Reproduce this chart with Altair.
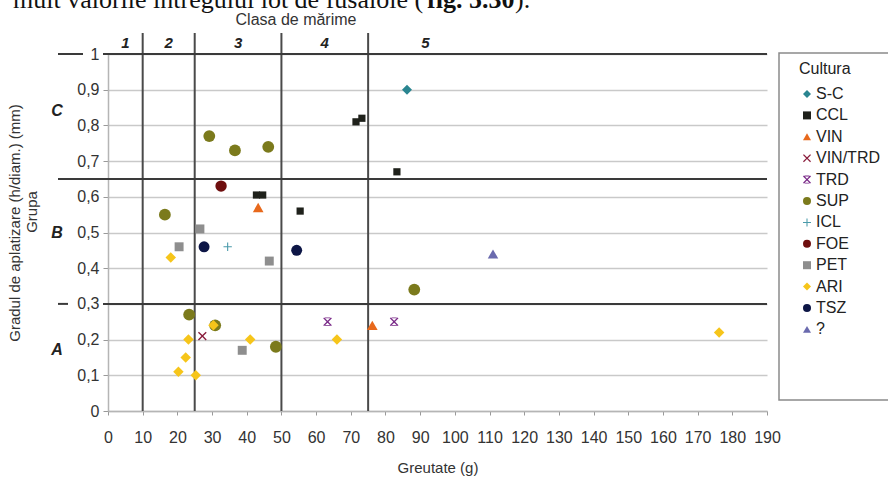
import altair as alt
import pandas as pd

# ---------------- data ----------------
series = ["S-C", "CCL", "VIN", "VIN/TRD", "TRD", "SUP", "ICL", "FOE", "PET", "ARI", "TSZ", "?"]
series_colors = ["#2a8590", "#1f211b", "#e8691c", "#8a1c3c", "#7a2a88", "#7b7a1c",
                 "#4a9aaa", "#6e0e0e", "#8e8e8e", "#f6c51a", "#0d1646", "#6a6aae"]

X_PATH = "M-1,-0.78L-0.78,-1L0,-0.22L0.78,-1L1,-0.78L0.22,0L1,0.78L0.78,1L0,0.22L-0.78,1L-1,0.78L-0.22,0Z"
STAR_PATH = X_PATH + " M-0.6,-1H0.6V-0.8H-0.6Z M-0.6,0.8H0.6V1H-0.6Z"
PLUS_PATH = "M-0.13,-1H0.13V-0.13H1V0.13H0.13V1H-0.13V0.13H-1V-0.13H-0.13Z"
series_shapes = ["diamond", "square", "triangle-up", X_PATH, STAR_PATH, "circle",
                 PLUS_PATH, "circle", "square", "diamond", "circle", "triangle-up"]
series_sizes = [100, 52, 115, 76, 76, 140, 70, 130, 80, 110, 120, 110]

cultura = (["S-C"]
           + ["CCL"] * 6
           + ["VIN"] * 2
           + ["VIN/TRD"]
           + ["TRD"] * 2
           + ["SUP"] * 8
           + ["ICL"]
           + ["FOE"]
           + ["PET"] * 4
           + ["ARI"] * 9
           + ["TSZ"] * 2
           + ["?"])
greutate = ([86.2]
            + [71.5, 73.2, 83.3, 42.8, 44.6, 55.4]
            + [43.3, 76.2]
            + [27.2]
            + [63.3, 82.5]
            + [29.2, 36.6, 46.2, 16.4, 88.3, 23.4, 30.9, 48.4]
            + [34.5]
            + [32.6]
            + [26.5, 20.5, 46.5, 38.7]
            + [18.1, 30.4, 23.2, 22.4, 20.3, 25.3, 41.0, 66.0, 176.2]
            + [27.7, 54.4]
            + [111.0])
grad = ([0.90]
        + [0.81, 0.82, 0.67, 0.605, 0.605, 0.56]
        + [0.57, 0.24]
        + [0.21]
        + [0.25, 0.25]
        + [0.77, 0.73, 0.74, 0.55, 0.34, 0.27, 0.24, 0.18]
        + [0.46]
        + [0.63]
        + [0.51, 0.46, 0.42, 0.17]
        + [0.43, 0.24, 0.20, 0.15, 0.11, 0.10, 0.20, 0.20, 0.22]
        + [0.46, 0.45]
        + [0.44])

x_ticks = list(range(0, 200, 10))
y_ticks = [0, 0.1, 0.2, 0.3, 0.4, 0.5, 0.6, 0.7, 0.8, 0.9, 1.0]

class_bounds = [10, 25, 50, 75]
class_labels = ["1", "2", "3", "4", "5"]
class_centers = [5, 17.5, 37.5, 62.5, 91.5]

group_bounds = [0.3, 0.65, 1.0]
group_labels = ["A", "B", "C"]
group_centers = [0.17, 0.50, 0.84]

FONT = "Liberation Sans"
W, H = 659, 357

size_of = dict(zip(series, series_sizes))
df = pd.DataFrame({"Cultura": cultura, "Greutate": greutate, "Grad": grad,
                   "sz": [size_of[c] for c in cultura]})

xscale = alt.Scale(domain=[0, 190], nice=False, zero=False)
yscale = alt.Scale(domain=[0, 1], nice=False)

x_axis = alt.Axis(values=x_ticks, grid=False, tickSize=4, tickColor="#999999",
                  domainColor="#b5b5b5", domainWidth=1.5, labelFontSize=16, labelColor="#333333",
                  labelPadding=14, labelFont=FONT, labelOverlap=False, labelFlush=False,
                  title="Greutate (g)", titleFont=FONT,
                  titleFontSize=15, titleFontWeight="normal", titleColor="#333333", titlePadding=15)
y_axis = alt.Axis(values=y_ticks, grid=True, gridColor="#c9c9c9", gridWidth=1.5,
                  tickSize=5, tickColor="#999999", domainColor="#b5b5b5", domainWidth=1.5,
                  labelFontSize=16, labelColor="#333333", labelPadding=4, labelFont=FONT,
                  labelOverlap=False,
                  labelExpr="datum.value == 0 ? '0' : datum.value == 1 ? '1' : replace(format(datum.value, '.1f'), '.', ',')",
                  title=None)

def X(field):
    return alt.X(field, scale=xscale, axis=x_axis, title="Greutate (g)")

def Y(field):
    return alt.Y(field, scale=yscale, axis=y_axis, title=None)

leg = alt.Legend(title="Cultura", orient="none", legendX=691, legendY=7)
points = alt.Chart(df).mark_point(filled=True, opacity=1, strokeWidth=0).encode(
    x=X("Greutate:Q"),
    y=Y("Grad:Q"),
    color=alt.Color("Cultura:N", scale=alt.Scale(domain=series, range=series_colors), legend=leg),
    shape=alt.Shape("Cultura:N", scale=alt.Scale(domain=series, range=series_shapes), legend=leg),
    size=alt.Size("sz:Q", scale=None),
    order=alt.Order("idx:Q"),
).transform_window(idx="row_number()")

# legend box
legend_box = alt.Chart(pd.DataFrame({"k": [0]})).mark_rect(
    fill="white", stroke="#8a8a8a", strokeWidth=1.5).encode(
    x=alt.value(671), x2=alt.value(800), y=alt.value(-1), y2=alt.value(346))

# class boundaries (vertical)
vrules = alt.Chart(pd.DataFrame({"b": class_bounds})).mark_rule(
    color="#4a4a4a", strokeWidth=2).encode(
    x=X("b:Q"), y=alt.value(-21), y2=alt.value(H))

# group boundaries (horizontal)
hdf = pd.DataFrame({"g": group_bounds})
hrules = alt.Chart(hdf).mark_rule(color="#3a3a3a", strokeWidth=2).encode(
    y=Y("g:Q"), x=alt.value(-5), x2=alt.value(W))
hext_mid = alt.Chart(hdf).transform_filter("datum.g == 0.65").mark_rule(
    color="#3a3a3a", strokeWidth=2).encode(
    y=Y("g:Q"), x=alt.value(-50), x2=alt.value(0))
hext_top = alt.Chart(hdf).transform_filter("datum.g == 1").mark_rule(
    color="#3a3a3a", strokeWidth=2).encode(
    y=Y("g:Q"), x=alt.value(-50), x2=alt.value(-25))
hext_low = alt.Chart(hdf).transform_filter("datum.g == 0.3").mark_rule(
    color="#3a3a3a", strokeWidth=2).encode(
    y=Y("g:Q"), x=alt.value(-50), x2=alt.value(-40))

class_text = alt.Chart(pd.DataFrame({"c": class_centers, "t": class_labels})).mark_text(
    font=FONT, fontSize=15, fontWeight="bold", fontStyle="italic", color="#222222").encode(
    x=X("c:Q"), y=alt.value(-11), text="t:N")

group_text = alt.Chart(pd.DataFrame({"c": group_centers, "t": group_labels})).mark_text(
    font=FONT, fontSize=16, fontWeight="bold", fontStyle="italic", color="#222222").encode(
    y=Y("c:Q"), x=alt.value(-51), text="t:N")

def label(txt, x, y, **kw):
    return alt.Chart(pd.DataFrame({"t": [txt]})).mark_text(**kw).encode(
        text="t:N", x=alt.value(x), y=alt.value(y))

top_title = label("Clasa de mărime", 188, -34, font=FONT, fontSize=16, color="#333333")
y_title = label("Gradul de aplatizare (h/diam.) (mm)", -93, 169, font=FONT, fontSize=15,
                color="#333333", angle=270)
grupa = label("Grupa", -76, 158, font=FONT, fontSize=15, color="#333333", angle=270)

cut1 = label("mult valorile întregului lot de fusaiole (", -95, -46, font="Liberation Serif",
             fontSize=26, color="#111111", align="left", baseline="alphabetic")
cut2 = label("fig. 5.30", 319, -46, font="Liberation Serif", fontSize=26, fontWeight="bold",
             color="#111111", align="left", baseline="alphabetic")
cut3 = label(").", 407, -46, font="Liberation Serif", fontSize=26, color="#111111",
             align="left", baseline="alphabetic")

chart = alt.layer(
    legend_box, vrules, hrules, hext_mid, hext_top, hext_low, points,
    class_text, group_text, top_title, y_title, grupa, cut1, cut2, cut3
).properties(
    width=W, height=H,
    autosize=alt.AutoSizeParams(type="none"),
    padding={"left": 108, "top": 54, "right": 121, "bottom": 68},
    background="white",
).configure_view(stroke=None).configure_legend(
    padding=0, strokeColor=None, titleFont=FONT, titleFontSize=16, titleFontWeight="normal",
    titleColor="#222222", labelFont=FONT, labelFontSize=16, labelColor="#222222",
    rowPadding=5.4, titlePadding=9, symbolSize=64, labelOffset=1, symbolStrokeWidth=0,
).configure_text(font=FONT)

chart.save("out.html", embed_options={"renderer": "svg", "actions": False})
